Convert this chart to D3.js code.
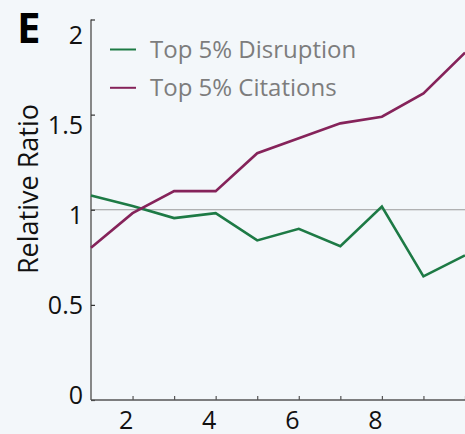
<!DOCTYPE html>
<html><head><meta charset="utf-8">
<script src="https://cdn.jsdelivr.net/npm/d3@7"></script>
<style>
html,body{margin:0;padding:0;background:#f3f7fa;}
svg{display:block;font-family:"Open Sans",sans-serif;}
</style></head>
<body>
<svg id="c" width="465" height="434"></svg>
<script>
const xValues = [1,2,3,4,5,6,7,8,9,10];
const disruption = [1.075,1.02,0.956,0.982,0.839,0.900,0.808,1.017,0.650,0.760];
const citations  = [0.80,0.982,1.098,1.098,1.297,1.376,1.454,1.489,1.611,1.826];
const seriesNames = ["Top 5% Disruption","Top 5% Citations"];
const seriesColors = ["#1d7a45","#85235a"];
const yTickValues = [0,0.5,1,1.5,2];
const yTickLabels = ["0","0.5","1","1.5","2"];
const xTickValues = [2,3,4,5,6,7,8,9,10];
const xLabelValues = [2,4,6,8];
const panelLetter = "E";
const yTitle = "Relative Ratio";

const svg = d3.select("#c");
const x = d3.scaleLinear().domain([1,10]).range([91,465]);
const y = d3.scaleLinear().domain([0,2]).range([400,19.5]);
const yLab = d3.scaleLinear().domain([0,2]).range([395,35]);

// reference line at 1
svg.append("line").attr("x1",x(1)).attr("x2",465).attr("y1",y(1)).attr("y2",y(1))
  .attr("stroke","#9a9a9a").attr("stroke-width",1.2);

// y axis
const yAxis = svg.append("g").attr("transform",`translate(${x(1)},0)`)
  .call(d3.axisRight(y).tickValues(yTickValues).tickSize(4).tickFormat(""));
yAxis.select(".domain").attr("stroke","#6b6b6b").attr("stroke-width",1.6).attr("d",`M0,${y(2)}V${y(0)}`);
yAxis.selectAll(".tick line").attr("stroke","#333").attr("stroke-width",1.2);
svg.append("g").selectAll("text").data(yTickValues).join("text")
  .attr("x",83).attr("y",d=>yLab(d)).attr("dy","0.35em").attr("text-anchor","end")
  .attr("font-size",25).attr("fill","#111").text((d,i)=>yTickLabels[i]);

// x axis
const xAxis = svg.append("g").attr("transform",`translate(0,${y(0)})`)
  .call(d3.axisTop(x).tickValues(xTickValues).tickSize(4).tickFormat(""));
xAxis.select(".domain").attr("stroke","#555").attr("stroke-width",1.6).attr("d",`M${x(1)},0H465`);
xAxis.selectAll(".tick line").attr("stroke","#555").attr("stroke-width",1.2);
svg.append("g").selectAll("text").data(xLabelValues).join("text")
  .attr("x",d=>x(d)-6.5).attr("y",420).attr("dy","0.35em").attr("text-anchor","middle")
  .attr("font-size",25).attr("fill","#111").text(d=>d);

// lines
const line = d3.line().x((d,i)=>x(xValues[i])).y(d=>y(d));
[disruption,citations].forEach((s,k)=>{
  svg.append("path").datum(s).attr("d",line).attr("fill","none")
    .attr("stroke",seriesColors[k]).attr("stroke-width",2.6).attr("stroke-linejoin","miter");
});

// legend
const leg = svg.append("g");
seriesNames.forEach((n,i)=>{
  const yy = 49.5 + i*38.3;
  leg.append("line").attr("x1",110).attr("x2",136).attr("y1",yy).attr("y2",yy)
    .attr("stroke",seriesColors[i]).attr("stroke-width",2);
  leg.append("text").attr("x",150).attr("y",yy).attr("dy","0.35em")
    .attr("font-size",24).attr("fill","#7d7d7d").text(n);
});

// panel letter
svg.append("text").attr("x",17).attr("y",43).attr("font-size",42).attr("font-weight","bold")
  .attr("font-family","'Open Sans',sans-serif").attr("fill","#000").text(panelLetter);

// y title
svg.append("text").attr("transform","translate(38,189) rotate(-90)").attr("text-anchor","middle")
  .attr("font-size",27).attr("fill","#111").text(yTitle);
</script>
</body></html>
